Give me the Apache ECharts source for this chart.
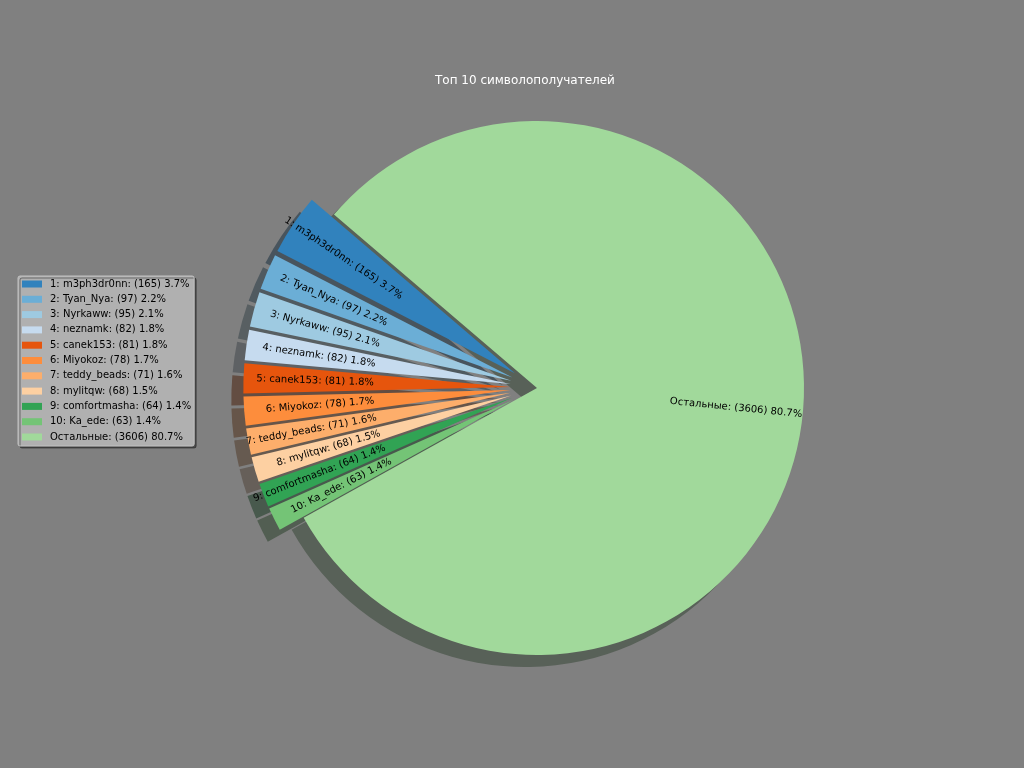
<!DOCTYPE html>
<html>
<head>
<meta charset="utf-8">
<script src="https://cdn.jsdelivr.net/npm/echarts@6/dist/echarts.min.js"></script>
<style>
html, body { margin: 0; padding: 0; background: #808080; }
#chart { width: 1024px; height: 768px; }
</style>
</head>
<body>
<div id="chart"></div>
<script>
// top 10 receivers and their counts
var users = ['m3ph3dr0nn', 'Tyan_Nya', 'Nyrkaww', 'neznamk', 'canek153', 'Miyokoz', 'teddy_beads', 'mylitqw', 'comfortmasha', 'Ka_ede'];
var counts = [165, 97, 95, 82, 81, 78, 71, 68, 64, 63];
// everything else
var otherName = 'Остальные';
var otherCount = 3606;
// tab20c colours
var colors = ['#3182bd', '#6baed6', '#9ecae1', '#c6dbef', '#e6550d', '#fd8d3c', '#fdae6b', '#fdd0a2', '#31a354', '#74c476', '#a1d99b'];
var titleText = 'Топ 10 символополучателей';

var myChart = echarts.init(document.getElementById('chart'));

// pie geometry
var cx = 537, cy = 388, R = 267;
var startAngle = 139.5;
var explode = 0.1;
var shadowDx = -12, shadowDy = 12;

var values = counts.concat([otherCount]);
var total = values.reduce(function (a, b) { return a + b; }, 0);
var names = values.map(function (v, i) {
    var pct = (v / total * 100).toFixed(1);
    var who = i < users.length ? (i + 1) + ': ' + users[i] : otherName;
    return who + ': (' + v + ') ' + pct + '%';
});

// shadow colour like matplotlib: 0.3 * face colour, half transparent
function shadowColor(hex) {
    var r = parseInt(hex.substr(1, 2), 16), g = parseInt(hex.substr(3, 2), 16), b = parseInt(hex.substr(5, 2), 16);
    return 'rgba(' + Math.round(r * 0.3) + ',' + Math.round(g * 0.3) + ',' + Math.round(b * 0.3) + ',0.5)';
}

// mid angle of each slice (counter-clockwise from startAngle)
var midAngles = [];
var acc = 0;
values.forEach(function (v) {
    var span = v / total * 360;
    midAngles.push(startAngle + acc + span / 2);
    acc += span;
});

var mainData = values.map(function (v, i) {
    return {
        name: names[i],
        value: v,
        selected: i < users.length,
        itemStyle: { color: colors[i] }
    };
});
var shadowData = values.map(function (v, i) {
    return {
        value: v,
        selected: i < users.length,
        itemStyle: { color: shadowColor(colors[i]) }
    };
});

var option = {
    backgroundColor: '#808080',
    animation: false,
    title: {
        text: titleText,
        left: 435,
        top: 75,
        padding: 0,
        textStyle: {
            color: '#ffffff',
            fontSize: 12,
            fontWeight: 'normal',
            fontFamily: 'DejaVu Sans'
        }
    },
    legend: {
        orient: 'vertical',
        left: 18,
        top: 276,
        data: names,
        selectedMode: false,
        icon: 'rect',
        itemWidth: 20,
        itemHeight: 7,
        itemGap: 3.3,
        padding: [2, 3, 3, 4],
        backgroundColor: '#b0b0b0',
        borderColor: '#c2c2c2',
        borderWidth: 1,
        borderRadius: 2,
        shadowColor: 'rgba(0,0,0,0.4)',
        shadowBlur: 0,
        shadowOffsetX: 2,
        shadowOffsetY: 2,
        textStyle: {
            color: '#000',
            fontSize: 10,
            lineHeight: 12,
            fontFamily: 'DejaVu Sans',
            padding: [0, 0, 0, 3]
        }
    },
    series: [
        {
            name: 'main',
            type: 'pie',
            z: 2,
            center: [cx, cy],
            radius: [0, R],
            startAngle: startAngle,
            clockwise: false,
            selectedMode: 'multiple',
            selectedOffset: R * explode,
            avoidLabelOverlap: false,
            emphasis: { disabled: true },
            itemStyle: { borderWidth: 0 },
            label: {
                show: true,
                position: 'inside',
                color: '#000',
                fontSize: 10,
                fontFamily: 'DejaVu Sans'
            },
            labelLine: { show: false },
            // matplotlib style: anchor at half radius, text running outwards
            labelLayout: function (p) {
                var i = p.dataIndex;
                var a = midAngles[i] * Math.PI / 180;
                var dist = R * (0.5 + (i < users.length ? explode : 0));
                var left = Math.cos(a) < 0;
                var rot = left ? midAngles[i] + 180 : midAngles[i];
                rot = ((rot % 360) + 540) % 360 - 180;
                return {
                    x: cx + dist * Math.cos(a),
                    y: cy - dist * Math.sin(a),
                    rotate: rot,
                    align: left ? 'right' : 'left',
                    verticalAlign: 'middle'
                };
            },
            data: mainData
        },
        {
            name: 'shadow',
            type: 'pie',
            z: 1,
            silent: true,
            center: [cx + shadowDx, cy + shadowDy],
            radius: [0, R],
            startAngle: startAngle,
            clockwise: false,
            selectedMode: 'multiple',
            selectedOffset: R * explode,
            emphasis: { disabled: true },
            itemStyle: { borderWidth: 0 },
            label: { show: false },
            labelLine: { show: false },
            data: shadowData
        }
    ]
};

myChart.setOption(option);
</script>
</body>
</html>
